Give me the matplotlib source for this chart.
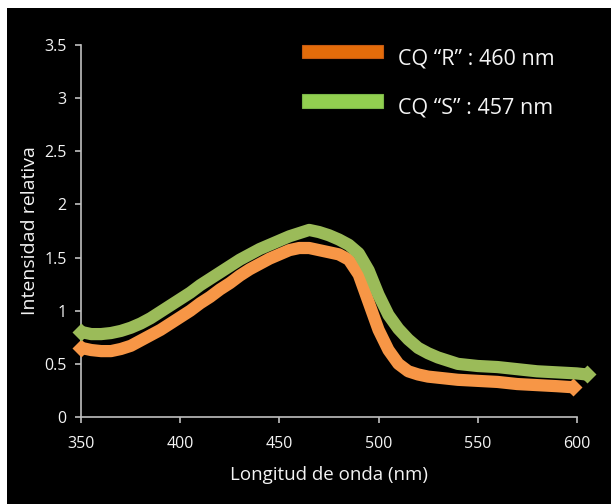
import matplotlib
matplotlib.use("Agg")
import matplotlib.pyplot as plt
from matplotlib.patches import Rectangle

plt.rcParams['font.family'] = ['Open Sans', 'DejaVu Sans']

# Espectros de emisión (intensidad relativa vs longitud de onda)
onda_r = [350, 355, 360, 365, 370, 375, 380, 385, 390, 395, 400, 405, 410, 415,
          420, 425, 430, 435, 440, 445, 450, 455, 460, 465, 470, 475, 480, 485,
          490, 495, 500, 505, 510, 515, 520, 525, 530, 540, 550, 560, 570, 580,
          590, 598]
int_r = [0.65, 0.63, 0.62, 0.62, 0.64, 0.67, 0.72, 0.77, 0.82, 0.88, 0.94, 1.00,
         1.07, 1.13, 1.20, 1.26, 1.33, 1.39, 1.44, 1.49, 1.53, 1.57, 1.59, 1.59,
         1.57, 1.55, 1.53, 1.48, 1.34, 1.08, 0.82, 0.63, 0.50, 0.43, 0.40, 0.38,
         0.37, 0.35, 0.34, 0.33, 0.31, 0.30, 0.29, 0.28]

onda_s = [350, 355, 360, 365, 370, 375, 380, 385, 390, 395, 400, 405, 410, 415,
          420, 425, 430, 435, 440, 445, 450, 455, 460, 465, 470, 475, 480, 485,
          490, 495, 500, 505, 510, 515, 520, 525, 530, 535, 540, 550, 560, 570,
          580, 590, 600, 605]
int_s = [0.80, 0.78, 0.78, 0.79, 0.81, 0.84, 0.88, 0.93, 0.99, 1.05, 1.11, 1.17,
         1.24, 1.30, 1.36, 1.42, 1.48, 1.53, 1.58, 1.62, 1.66, 1.70, 1.73, 1.76,
         1.74, 1.71, 1.67, 1.62, 1.54, 1.38, 1.15, 0.96, 0.83, 0.73, 0.65, 0.60,
         0.56, 0.53, 0.50, 0.48, 0.47, 0.45, 0.43, 0.42, 0.41, 0.40]

etiquetas = ['CQ \u201cR\u201d : 460 nm', 'CQ \u201cS\u201d : 457 nm']
x_ticks = [350, 400, 450, 500, 550, 600]
y_ticks = [0, 0.5, 1, 1.5, 2, 2.5, 3, 3.5]

NARANJA = '#F79646'
VERDE = '#9BBB59'
TEXTO = '#F4F4F4'
EJE = '#BFBFBF'

W, H = 611, 504
fig = plt.figure(figsize=(W / 100, H / 100), dpi=100, facecolor='white')

# fondo negro (deja una franja blanca arriba y a la izquierda)
fig.add_artist(Rectangle((7 / W, 0), 1, 1 - 7.5 / H, transform=fig.transFigure,
                         facecolor='black', edgecolor='none', zorder=0))

ax = fig.add_axes([81.3 / W, 1 - 417 / H, (576.7 - 81.3) / W, (417 - 45) / H])
ax.set_facecolor('none')

for xs, ys, c in [(onda_r, int_r, NARANJA), (onda_s, int_s, VERDE)]:
    ax.plot(xs, ys, color=c, lw=8.8, solid_capstyle='butt',
            solid_joinstyle='round', clip_on=False, zorder=3)
    ax.plot([xs[0], xs[-1]], [ys[0], ys[-1]], 'D', color=c, ms=9.5,
            mec='none', clip_on=False, zorder=3)

ax.set_xlim(350, 600)
ax.set_ylim(0, 3.5)
ax.set_xticks(x_ticks)
ax.set_yticks(y_ticks)
ax.set_yticklabels(['0', '0.5', '1', '1.5', '2', '2.5', '3', '3.5'])

for s in ['top', 'right']:
    ax.spines[s].set_visible(False)
for s in ['left', 'bottom']:
    ax.spines[s].set_color(EJE)
    ax.spines[s].set_linewidth(1.2)

ax.tick_params(axis='both', colors=EJE, labelcolor=TEXTO, length=4.5,
               width=1.2, labelsize=11.5, direction='out')
ax.tick_params(axis='x', pad=9)
ax.tick_params(axis='y', pad=6)

ax.set_xlabel('Longitud de onda (nm)', color=TEXTO, fontsize=13.5, labelpad=10)
ax.set_ylabel('Intensidad relativa', color=TEXTO, fontsize=14, labelpad=4)

# leyenda dibujada a mano con rectángulos
colores_ley = [('#E46C0A', '#C55A11'), ('#92D050', '#7AB648')]
for i, (etq, (fc, ec)) in enumerate(zip(etiquetas, colores_ley)):
    y_top = 45 + i * 49.3
    fig.add_artist(Rectangle((301.7 / W, 1 - (y_top + 13.3) / H), 81 / W, 13.3 / H,
                             transform=fig.transFigure, facecolor=fc,
                             edgecolor=ec, lw=0.8, zorder=4))
    fig.text(398 / W, 1 - (y_top + 13.5) / H, etq, color=TEXTO, fontsize=15.5,
             ha='left', va='center')

fig.savefig('out.png', dpi=100, facecolor='white')
